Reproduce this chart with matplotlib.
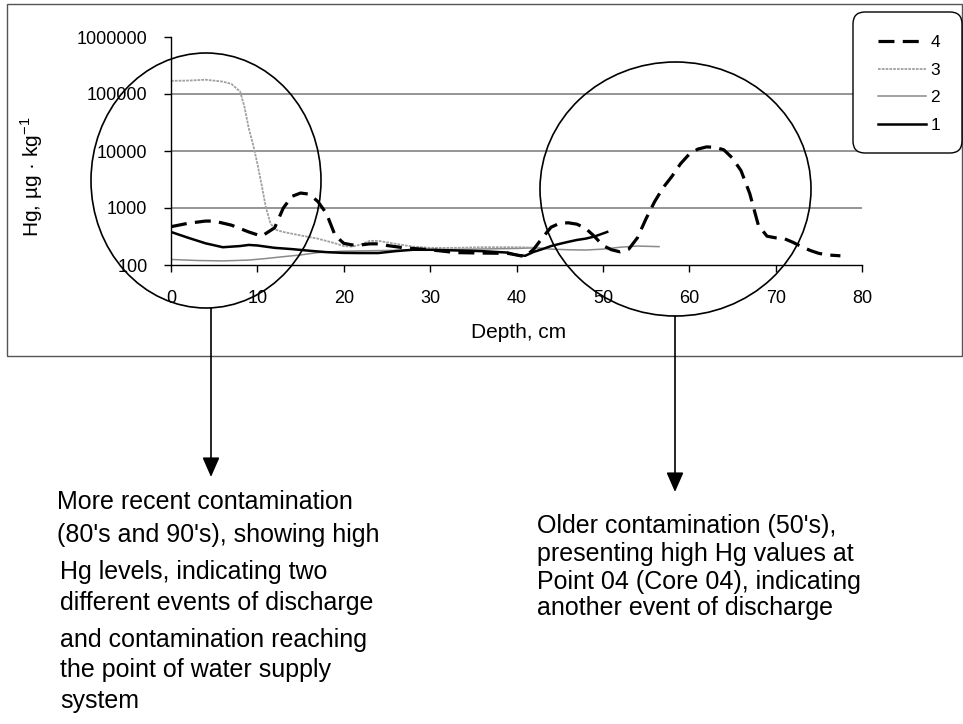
import matplotlib
matplotlib.use("Agg")
import matplotlib.pyplot as plt
from matplotlib.patches import Ellipse, Rectangle, FancyBboxPatch, FancyArrowPatch
from matplotlib.lines import Line2D
from matplotlib.transforms import IdentityTransform

plt.rcParams['font.family'] = ['Liberation Sans', 'DejaVu Sans']
plt.rcParams['mathtext.fontset'] = 'custom'
plt.rcParams['mathtext.rm'] = 'Liberation Sans'

# core 4 (dashed)
depth4 = [0, 2, 4, 5, 7, 9, 10.5, 12, 13, 14, 15, 16, 17, 18, 19, 20, 21, 22, 23, 24, 25,
          27, 30, 33, 36, 39, 40, 41, 42, 43, 44, 45, 46, 47, 48, 49, 50, 51, 52, 53, 54,
          55, 56, 57, 58, 59, 60, 61, 62, 63, 64, 65, 66, 67, 68, 69, 70, 71, 72, 73, 74,
          75, 76, 77.5]
hg4 = [470, 540, 590, 590, 500, 380, 320, 450, 1000, 1600, 1830, 1750, 1300, 800, 330, 240,
       225, 225, 235, 235, 220, 200, 185, 165, 162, 160, 150, 140, 190, 300, 460, 540, 550,
       520, 440, 320, 220, 185, 170, 190, 300, 650, 1300, 2300, 3600, 6000, 8800, 10800,
       11800, 11600, 10500, 7500, 4500, 1800, 500, 320, 300, 290, 250, 210, 180, 160, 150,
       145]

# core 3 (dotted grey)
depth3 = [0, 2, 4, 6, 7, 8, 8.5, 9, 9.5, 10, 10.5, 11, 11.5, 12, 13, 15, 17, 19, 20, 21,
          22, 23, 24, 26, 28, 30, 33, 36, 40, 43]
hg3 = [170000, 172000, 178000, 165000, 150000, 110000, 60000, 25000, 13000, 6000, 2500,
       1000, 550, 420, 380, 330, 290, 240, 215, 210, 230, 265, 265, 235, 210, 200, 200,
       205, 205, 200]

# core 2 (thin grey)
depth2 = [0, 3, 6, 9, 11, 13, 15, 17, 20, 25, 30, 35, 40, 42, 44, 46, 48, 50, 52, 54, 56.5]
hg2 = [125, 120, 118, 122, 130, 140, 150, 165, 175, 180, 185, 190, 195, 200, 190, 185, 183,
       190, 205, 215, 210]

# core 1 (solid black)
depth1 = [0, 2, 4, 6, 8, 9, 10, 12, 14, 16, 18, 20, 22, 24, 26, 28, 30, 33, 36, 39, 40, 41,
          42, 43, 44, 45, 46, 47, 48, 49, 50.5]
hg1 = [380, 300, 240, 205, 215, 225, 220, 200, 190, 178, 168, 163, 162, 162, 175, 185, 185,
       180, 175, 165, 150, 145, 170, 190, 215, 235, 255, 275, 290, 315, 380]

yticks = [100, 1000, 10000, 100000, 1000000]
xticks = [0, 10, 20, 30, 40, 50, 60, 70, 80]

left_note = ["More recent contamination", "(80's and 90's), showing high",
             "Hg levels, indicating two", "different events of discharge",
             "and contamination reaching", "the point of water supply", "system"]
right_note = ["Older contamination (50's),", "presenting high Hg values at",
              "Point 04 (Core 04), indicating", "another event of discharge"]

W, H = 963, 724


def fx(x):
    return x / W


def fy(y):
    return 1 - y / H


fig = plt.figure(figsize=(W / 100, H / 100), dpi=100)

# outer chart frame
fig.add_artist(Rectangle((fx(6.5), fy(355.5)), fx(962) - fx(6.5), fy(4) - fy(355.5),
                         transform=fig.transFigure, fill=False, ec='#555555', lw=1))

ax = fig.add_axes([fx(171), fy(265), fx(862) - fx(171), fy(37) - fy(265)])
ax.set_yscale('log')
ax.set_xlim(0, 80)
ax.set_ylim(100, 1000000)
for v in [1000, 10000, 100000]:
    ax.axhline(v, color='#8c8c8c', lw=1.3, zorder=0)

ax.plot(depth2, hg2, color='#8a8a8a', lw=1.1, label='2')
ax.plot(depth3, hg3, color='#a0a0a0', lw=1.3, ls=(0, (1.5, 0.6)), label='3')
ax.plot(depth1, hg1, color='black', lw=1.8, label='1')
ax.plot(depth4, hg4, color='black', lw=2.3, ls=(0, (5, 2.6)), label='4')

ax.set_xticks(xticks)
ax.set_yticks(yticks)
ax.set_yticklabels([str(v) for v in yticks])
ax.minorticks_off()
ax.tick_params(axis='both', labelsize=13, length=5, width=1, direction='out')
ax.tick_params(axis='x', pad=13)
ax.tick_params(axis='y', pad=12)
for s in ['top', 'right']:
    ax.spines[s].set_visible(False)
for s in ['left', 'bottom']:
    ax.spines[s].set_linewidth(1)
ax.patch.set_alpha(0)

fig.text(fx(519), fy(333), 'Depth, cm', fontsize=15, ha='center', va='center')
fig.text(fx(32), fy(177), 'Hg, µg · kg$^{-1}$', fontsize=15, ha='center', va='center',
         rotation=90)

# legend
box = FancyBboxPatch((853, H - 153), 109, 141, boxstyle='round,pad=0,rounding_size=12',
                     transform=IdentityTransform(), fc='white', ec='black', lw=1)
fig.add_artist(box)
handles = [Line2D([], [], color='black', lw=2.3, ls=(0, (5, 2.6))),
           Line2D([], [], color='#a0a0a0', lw=1.3, ls=(0, (1.5, 0.6))),
           Line2D([], [], color='#8a8a8a', lw=1.1),
           Line2D([], [], color='black', lw=1.8)]
leg = fig.legend(handles, ['4', '3', '2', '1'], loc='center',
                 bbox_to_anchor=(fx(909), fy(84)), frameon=False, fontsize=12.5,
                 handlelength=2.8, handletextpad=0.25, labelspacing=0.72)

# circles and arrows
fig.add_artist(Ellipse((fx(206), fy(180.5)), fx(230), 255 / H, transform=fig.transFigure,
                       fill=False, ec='black', lw=1.2))
fig.add_artist(Ellipse((fx(675.5), fy(189)), fx(271), 254 / H, transform=fig.transFigure,
                       fill=False, ec='black', lw=1.2))
fig.add_artist(FancyArrowPatch((fx(211), fy(308)), (fx(211), fy(477)),
                               transform=fig.transFigure, color='black', lw=1.2,
                               arrowstyle='-|>,head_length=0.8,head_width=0.35',
                               mutation_scale=15, shrinkA=0, shrinkB=0))
fig.add_artist(FancyArrowPatch((fx(675), fy(316)), (fx(675), fy(492)),
                               transform=fig.transFigure, color='black', lw=1.2,
                               arrowstyle='-|>,head_length=0.8,head_width=0.35',
                               mutation_scale=15, shrinkA=0, shrinkB=0))

left_y = [502, 535, 572, 603, 640, 670, 701]
left_x = [57, 57, 60, 60, 60, 60, 60]
for t, x, y in zip(left_note, left_x, left_y):
    fig.text(fx(x), fy(y), t, fontsize=18, ha='left', va='center')

right_y = [526, 554, 582, 608]
for t, y in zip(right_note, right_y):
    fig.text(fx(537), fy(y), t, fontsize=18, ha='left', va='center')

fig.savefig('out.png', dpi=100)
